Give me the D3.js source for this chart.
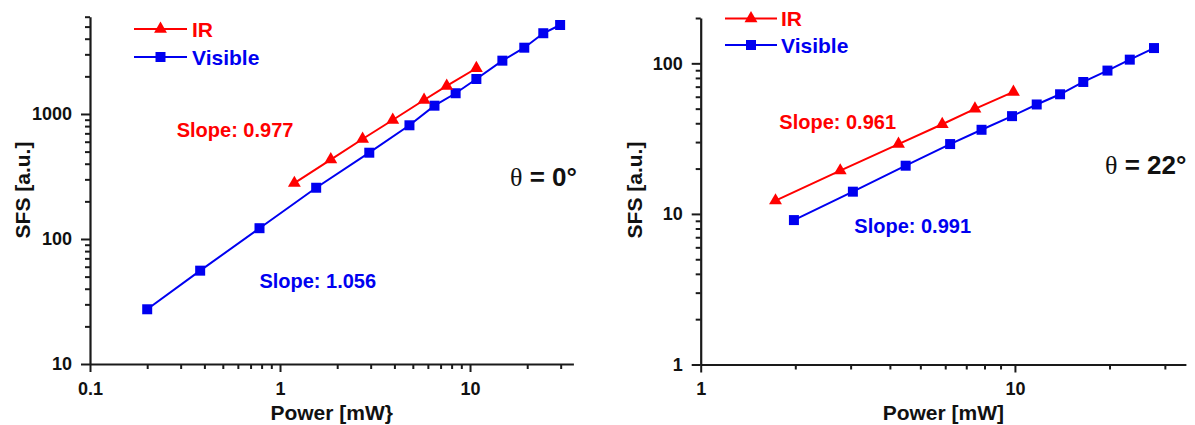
<!DOCTYPE html>
<html>
<head>
<meta charset="utf-8">
<script src="https://cdn.jsdelivr.net/npm/d3@7"></script>
<style>
  html, body { margin: 0; padding: 0; background: #fff; }
  svg { display: block; }
  text { font-family: "Liberation Sans", Arial, sans-serif; font-weight: bold; }
</style>
</head>
<body>
<svg id="chart" width="1195" height="425"></svg>
<script>
// ---------- Data ----------
// Left panel: theta = 0 deg
const leftVisPower = [0.2, 0.38, 0.78, 1.55, 2.95, 4.8, 6.5, 8.4, 10.8, 14.8, 19.3, 24.3, 29.8];
const leftVisSFS   = [27.4, 55.8, 122, 257, 490, 812, 1165, 1465, 1905, 2670, 3390, 4425, 5150];
const leftIRPower  = [1.19, 1.85, 2.72, 3.92, 5.73, 7.54, 10.8];
const leftIRSFS    = [280, 432, 631, 895, 1294, 1675, 2322];

// Right panel: theta = 22 deg
const rightVisPower = [1.98, 3.05, 4.49, 6.22, 7.83, 9.79, 11.73, 13.92, 16.5, 19.7, 23.2, 27.7];
const rightVisSFS   = [9.1, 14.05, 20.9, 29.1, 36.2, 44.6, 53.3, 62.3, 75.2, 89.5, 105.8, 126.3];
const rightIRPower  = [1.73, 2.78, 4.26, 5.87, 7.46, 9.89];
const rightIRSFS    = [12.25, 19.4, 29.1, 39.4, 49.9, 64.6];

// Axis ticks
const leftXMajor  = [0.1, 1, 10];
const leftXMinor  = [0.2, 0.3, 0.4, 0.5, 0.6, 0.7, 0.8, 0.9, 2, 3, 4, 5, 6, 7, 8, 9, 20, 30];
const leftYMajor  = [10, 100, 1000];
const leftYMinor  = [20, 30, 40, 50, 60, 70, 80, 90, 200, 300, 400, 500, 600, 700, 800, 900, 2000, 3000, 4000, 5000, 6000];
const rightXMajor = [1, 10];
const rightXMinor = [2, 3, 4, 5, 6, 7, 8, 9, 20, 30];
const rightYMajor = [1, 10, 100];
const rightYMinor = [2, 3, 4, 5, 6, 7, 8, 9, 20, 30, 40, 50, 60, 70, 80, 90, 200];

// Text
const seriesNames = ["IR", "Visible"];
const leftXTitle = "Power [mW}";
const rightXTitle = "Power [mW]";
const yTitle = "SFS [a.u.]";
const leftSlopes = ["Slope: 0.977", "Slope: 1.056"];
const rightSlopes = ["Slope: 0.961", "Slope: 0.991"];
const leftAngle = " = 0°";
const rightAngle = " = 22°";

// ---------- Drawing ----------
const RED = "#ff0000";
const BLUE = "#0000f0";
const AXIS = "#1a1a1a";

const svg = d3.select("#chart");

const panels = [
  {
    x: d3.scaleLog().domain([0.1, 35]).range([90, 573.4]),
    y: d3.scaleLog().domain([10, 6000]).range([364, 16.7]),
    xMajor: leftXMajor, xMinor: leftXMinor, yMajor: leftYMajor, yMinor: leftYMinor,
    vis: leftVisPower.map((p, i) => [p, leftVisSFS[i]]),
    ir: leftIRPower.map((p, i) => [p, leftIRSFS[i]]),
    xTitle: leftXTitle, yTitleX: 22.5,
    legend: { x1: 134, x2: 187, tx: 192, yIR: 29, yVis: 57 },
    slopes: leftSlopes,
    slopePos: [[176.7, 136.5], [259.4, 287.5]],
    angle: leftAngle, anglePos: [510, 186]
  },
  {
    x: d3.scaleLog().domain([1, 35]).range([700.7, 1185.9]),
    y: d3.scaleLog().domain([1, 200]).range([364.5, 18]),
    xMajor: rightXMajor, xMinor: rightXMinor, yMajor: rightYMajor, yMinor: rightYMinor,
    vis: rightVisPower.map((p, i) => [p, rightVisSFS[i]]),
    ir: rightIRPower.map((p, i) => [p, rightIRSFS[i]]),
    xTitle: rightXTitle, yTitleX: 634,
    legend: { x1: 725, x2: 777, tx: 781, yIR: 18.5, yVis: 45 },
    slopes: rightSlopes,
    slopePos: [[779.3, 129], [854.3, 233]],
    angle: rightAngle, anglePos: [1105, 174]
  }
];

const fmt = d => String(d);

panels.forEach(P => {
  const x0 = P.x.range()[0];
  const yBase = P.y.range()[0];
  const yTop = P.y.range()[1];
  const g = svg.append("g");

  // Minor ticks (bottom)
  g.append("g").attr("transform", `translate(0,${yBase})`)
    .call(d3.axisBottom(P.x).tickValues(P.xMinor).tickSize(5).tickSizeOuter(0).tickFormat(""))
    .call(s => s.select(".domain").remove());
  // Major ticks (bottom)
  const xa = g.append("g").attr("transform", `translate(0,${yBase})`)
    .call(d3.axisBottom(P.x).tickValues(P.xMajor).tickSize(8).tickSizeOuter(0).tickPadding(10).tickFormat(fmt));
  // Minor ticks (left)
  g.append("g").attr("transform", `translate(${x0},0)`)
    .call(d3.axisLeft(P.y).tickValues(P.yMinor).tickSize(5).tickSizeOuter(0).tickFormat(""))
    .call(s => s.select(".domain").remove());
  // Major ticks (left)
  const ya = g.append("g").attr("transform", `translate(${x0},0)`)
    .call(d3.axisLeft(P.y).tickValues(P.yMajor).tickSize(9).tickSizeOuter(0).tickPadding(9).tickFormat(fmt));

  g.selectAll(".domain").attr("stroke", AXIS).attr("stroke-width", 2.2);
  g.selectAll(".tick line").attr("stroke", AXIS).attr("stroke-width", 2);
  g.selectAll(".tick text")
    .attr("fill", "#111")
    .style("font-family", "'Liberation Sans', Arial, sans-serif")
    .style("font-weight", "bold")
    .style("font-size", "18px");

  // Axis titles
  g.append("text")
    .attr("x", (P.x.range()[0] + P.x.range()[1]) / 2)
    .attr("y", 420)
    .attr("text-anchor", "middle")
    .attr("fill", "#111")
    .style("font-size", "21px")
    .text(P.xTitle);
  g.append("text")
    .attr("transform", `translate(${P.yTitleX + 7.5},190) rotate(-90)`)
    .attr("text-anchor", "middle")
    .attr("fill", "#111")
    .style("font-size", "21px")
    .text(yTitle);

  // Lines
  const line = d3.line().x(d => P.x(d[0])).y(d => P.y(d[1]));
  g.append("path").datum(P.vis).attr("d", line)
    .attr("fill", "none").attr("stroke", BLUE).attr("stroke-width", 2);
  g.append("path").datum(P.ir).attr("d", line)
    .attr("fill", "none").attr("stroke", RED).attr("stroke-width", 2);

  // Markers
  const sq = d3.symbol().type(d3.symbolSquare).size(100);
  const tri = d3.symbol().type(d3.symbolTriangle).size(72);
  g.selectAll(".vis").data(P.vis).enter().append("path")
    .attr("d", sq)
    .attr("transform", d => `translate(${P.x(d[0])},${P.y(d[1])})`)
    .attr("fill", BLUE);
  g.selectAll(".ir").data(P.ir).enter().append("path")
    .attr("d", tri)
    .attr("transform", d => `translate(${P.x(d[0])},${P.y(d[1])})`)
    .attr("fill", RED);

  // Legend
  const L = P.legend;
  const legendItems = [
    { name: seriesNames[0], color: RED, y: L.yIR, sym: tri },
    { name: seriesNames[1], color: BLUE, y: L.yVis, sym: sq }
  ];
  legendItems.forEach(it => {
    g.append("line").attr("x1", L.x1).attr("x2", L.x2).attr("y1", it.y).attr("y2", it.y)
      .attr("stroke", it.color).attr("stroke-width", 2);
    g.append("path").attr("d", it.sym)
      .attr("transform", `translate(${(L.x1 + L.x2) / 2},${it.y})`)
      .attr("fill", it.color);
    g.append("text").attr("x", L.tx).attr("y", it.y + 7.6)
      .attr("fill", it.color).style("font-size", "21px").text(it.name);
  });

  // Slope annotations
  g.append("text").attr("x", P.slopePos[0][0]).attr("y", P.slopePos[0][1])
    .attr("fill", RED).style("font-size", "20px").text(P.slopes[0]);
  g.append("text").attr("x", P.slopePos[1][0]).attr("y", P.slopePos[1][1])
    .attr("fill", BLUE).style("font-size", "20px").text(P.slopes[1]);

  // Angle label
  const at = g.append("text").attr("x", P.anglePos[0]).attr("y", P.anglePos[1])
    .attr("fill", "#111").style("font-size", "26px");
  at.append("tspan").style("font-family", "'Liberation Serif', 'Times New Roman', serif")
    .style("font-weight", "normal").text("θ");
  at.append("tspan").text(P.angle);
});
</script>
</body>
</html>
